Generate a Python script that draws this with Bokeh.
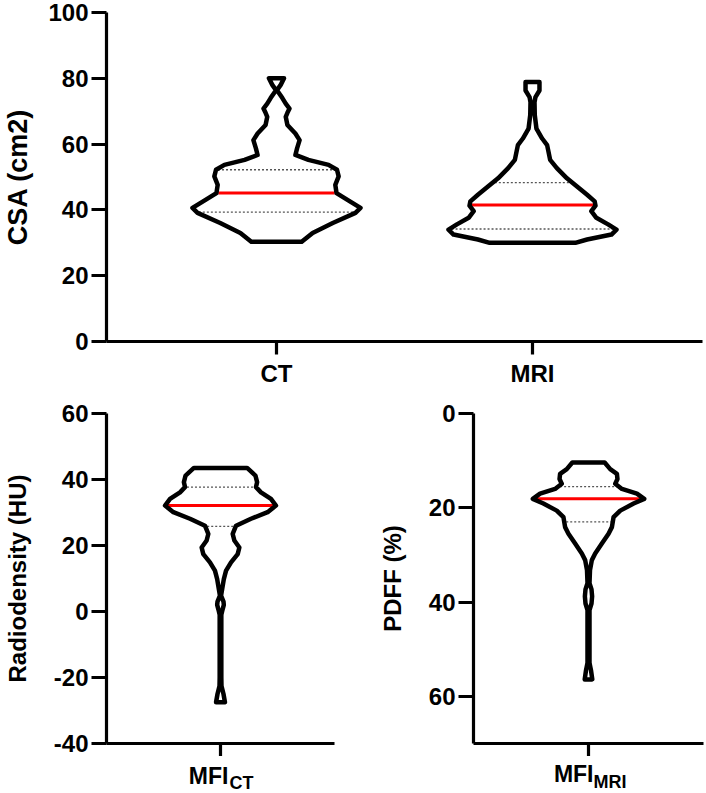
import numpy as np
from bokeh.plotting import figure
from bokeh.layouts import column, row
from bokeh.models import Range1d, FixedTicker
from bokeh.core.properties import value
from bokeh.embed import file_html
from bokeh.resources import INLINE

FONT = "Liberation Sans"

# ------------------------------------------------------------------ data
csa_labels = ["CT", "MRI"]
csa_ticks = [0, 20, 40, 60, 80, 100]
hu_ticks = [-40, -20, 0, 20, 40, 60]
pdff_ticks = [0, 20, 40, 60]
mfi_ct_label = ("MFI", "CT")
mfi_mri_label = ("MFI", "MRI")

# violin outlines: level (y) and relative density (1 = widest point)
ct_csa_y = [80.0, 78.0, 76.4, 74.0, 72.3, 70.8, 69.5, 68.3, 65.8, 63.2, 61.2, 58.7,
            56.7, 55.2, 53.7, 52.2, 50.2, 47.6, 45.1, 43.1, 40.6, 39.1, 36.0, 33.0, 30.3]
ct_csa_density = [0.09, 0.05, 0.006, 0.07, 0.11, 0.155, 0.13, 0.11, 0.13, 0.225, 0.275, 0.245,
                  0.225, 0.38, 0.62, 0.72, 0.74, 0.70, 0.715, 0.84, 1.0, 0.94, 0.67, 0.43, 0.30]
ct_csa_quartiles = [39.3, 45.1, 52.2]

mri_csa_y = [78.9, 76.3, 74.3, 72.8, 68.8, 64.7, 61.7, 59.7, 57.7, 55.2, 52.7, 49.6,
             47.1, 44.6, 42.6, 41.3, 39.6, 37.6, 35.6, 34.0, 32.5, 31.0, 30.0]
mri_csa_density = [0.083, 0.083, 0.035, 0.024, 0.027, 0.047, 0.115, 0.174, 0.19, 0.21, 0.29, 0.41,
                   0.53, 0.65, 0.74, 0.75, 0.70, 0.76, 0.90, 1.0, 0.94, 0.65, 0.51]
mri_csa_quartiles = [34.2, 41.5, 48.3]

mfi_ct_y = [43.5, 41.2, 39.2, 37.7, 36.1, 34.1, 32.1, 30.1, 28.1, 26.0, 23.5, 21.5, 19.4,
            17.4, 14.9, 12.4, 9.8, 6.8, 4.8, 3.0, 2.0, 0.5, -1.0, -20.0, -22.6, -25.0, -27.5]
mfi_ct_density = [0.48, 0.63, 0.66, 0.64, 0.73, 0.91, 1.0, 0.85, 0.55, 0.28, 0.22, 0.25, 0.34,
                  0.31, 0.19, 0.10, 0.06, 0.03, 0.01, 0.054, 0.06, 0.036, 0.015, 0.015, 0.018,
                  0.054, 0.08]
mfi_ct_quartiles = [25.8, 32.1, 37.7]

mfi_mri_y = [10.4, 11.8, 12.8, 13.9, 14.9, 16.0, 17.0, 18.1, 19.1, 20.6, 22.0, 24.1, 25.5,
             27.6, 29.7, 31.1, 33.2, 36.0, 37.3, 38.8, 40.3, 41.7, 52.9, 54.5, 56.4]
mfi_mri_density = [0.29, 0.39, 0.51, 0.52, 0.48, 0.60, 0.87, 1.0, 0.81, 0.57, 0.45, 0.42, 0.36,
                   0.24, 0.12, 0.06, 0.027, 0.018, 0.054, 0.065, 0.054, 0.018, 0.018, 0.045, 0.068]
mfi_mri_quartiles = [15.5, 18.1, 23.0]


# ------------------------------------------------------------------ helpers
def violin(p, xc, ys, dens, half_w, quart, inset):
    ys = np.asarray(ys, float)
    d = np.asarray(dens, float)
    xs = np.concatenate([xc + d * half_w, (xc - d * half_w)[::-1]])
    yy = np.concatenate([ys, ys[::-1]])
    p.patch(xs, yy, fill_color="white", line_alpha=0)
    order = np.argsort(ys)
    for i, q in enumerate(quart):
        w = np.interp(q, ys[order], d[order]) * half_w - inset
        if i == 1:
            p.segment(xc - w, q, xc + w, q, line_color="#ff0000", line_width=3)
        else:
            p.segment(xc - w, q, xc + w, q, line_color="#555555", line_width=1.3,
                      line_dash="2 2")
    p.patch(xs, yy, fill_alpha=0, line_color="black", line_width=4.5, line_join="round")


def style(p, label_size, label_standoff):
    p.outline_line_color = None
    p.grid.visible = False
    p.background_fill_color = "white"
    p.border_fill_color = "white"
    for ax in p.axis:
        ax.axis_line_width = 3.2
        ax.axis_line_color = "black"
        ax.major_tick_line_width = 3.2
        ax.major_tick_line_color = "black"
        ax.major_tick_in = 0
        ax.minor_tick_line_color = None
        ax.major_label_text_font = FONT
        ax.major_label_text_font_style = "bold"
        ax.major_label_text_font_size = "24px"
        ax.major_label_text_color = "black"
        ax.axis_label_text_font = FONT
        ax.axis_label_text_font_style = "bold"
        ax.axis_label_text_font_size = label_size
        ax.axis_label_text_color = "black"
    p.yaxis.major_tick_out = 15
    p.yaxis.major_label_standoff = 3
    p.yaxis.axis_label_standoff = label_standoff
    p.xaxis.major_tick_out = 13
    p.xaxis.major_label_standoff = 5


def label_fig(width, left, right, height, main, sub, main_dx, sub_dx, main_y, sub_y, sub_size):
    f = figure(width=width, height=height, output_backend="svg", toolbar_location=None,
               title=None,
               x_range=Range1d(0.5, 1.5), y_range=Range1d(0, height),
               min_border_left=left, min_border_right=right, min_border_top=0,
               min_border_bottom=0, x_axis_type=None, y_axis_type=None)
    f.outline_line_color = None
    f.grid.visible = False
    f.background_fill_color = "white"
    f.border_fill_color = "white"
    fw = width - left - right
    f.text(x=[1 + main_dx / fw], y=[main_y], text=[main], text_font=value(FONT),
           text_font_style="bold", text_font_size="23px", text_color="black",
           text_align="right", text_baseline="middle")
    f.text(x=[1 + sub_dx / fw], y=[sub_y], text=[sub], text_font=value(FONT),
           text_font_style="bold", text_font_size=sub_size, text_color="black",
           text_align="left", text_baseline="middle")
    return f


# ------------------------------------------------------------------ top panel (CSA)
top = figure(width=706, height=395, output_backend="svg", toolbar_location=None,
             x_range=Range1d(0.336, 2.664), y_range=Range1d(0, 100),
             min_border_left=106, min_border_right=4, min_border_top=12,
             min_border_bottom=54)
top.yaxis.ticker = FixedTicker(ticks=csa_ticks)
top.xaxis.ticker = FixedTicker(ticks=[1, 2])
top.xaxis.major_label_overrides = {1: csa_labels[0], 2: csa_labels[1]}
top.yaxis.axis_label = "CSA (cm2)"
style(top, "27px", 12)
violin(top, 1, ct_csa_y, ct_csa_density, 84 / 256, ct_csa_quartiles, 2 / 256)
violin(top, 2, mri_csa_y, mri_csa_density, 84 / 256, mri_csa_quartiles, 2 / 256)

# ------------------------------------------------------------------ bottom left (MFI CT)
bl = figure(width=345, height=361, output_backend="svg", toolbar_location=None,
            x_range=Range1d(0.5, 1.5), y_range=Range1d(-40, 60),
            min_border_left=105, min_border_right=11, min_border_top=18,
            min_border_bottom=13)
bl.yaxis.ticker = FixedTicker(ticks=hu_ticks)
bl.yaxis.major_label_overrides = {t: str(t) for t in hu_ticks}
bl.xaxis.ticker = FixedTicker(ticks=[1])
bl.xaxis.major_label_overrides = {1: ""}
bl.yaxis.axis_label = "Radiodensity (HU)"
style(bl, "24px", 20)
bl.xaxis.major_label_standoff = 0
violin(bl, 1, mfi_ct_y, mfi_ct_density, 55.7 / 229, mfi_ct_quartiles, 2 / 229)
bl_lab = label_fig(345, 105, 11, 37, mfi_ct_label[0], mfi_ct_label[1], 8, 9, 18, 10.5, "18px")

# ------------------------------------------------------------------ bottom right (MFI MRI)
br = figure(width=361, height=361, output_backend="svg", toolbar_location=None,
            x_range=Range1d(0.5, 1.5), y_range=Range1d(70, 0),
            min_border_left=128, min_border_right=3, min_border_top=18,
            min_border_bottom=13)
br.yaxis.ticker = FixedTicker(ticks=pdff_ticks)
br.xaxis.ticker = FixedTicker(ticks=[1])
br.xaxis.major_label_overrides = {1: ""}
br.yaxis.axis_label = "PDFF (%)"
style(br, "24px", 20)
br.xaxis.major_label_standoff = 0
violin(br, 1, mfi_mri_y, mfi_mri_density, 55.7 / 230, mfi_mri_quartiles, 2 / 230)
br_lab = label_fig(361, 128, 3, 37, mfi_mri_label[0], mfi_mri_label[1], 5, 5, 19.5, 11.5, "18px")

layout = column(top,
                row(column(bl, bl_lab, spacing=0), column(br, br_lab, spacing=0), spacing=0),
                spacing=0)

open("out.html", "w").write(file_html(layout, INLINE))
